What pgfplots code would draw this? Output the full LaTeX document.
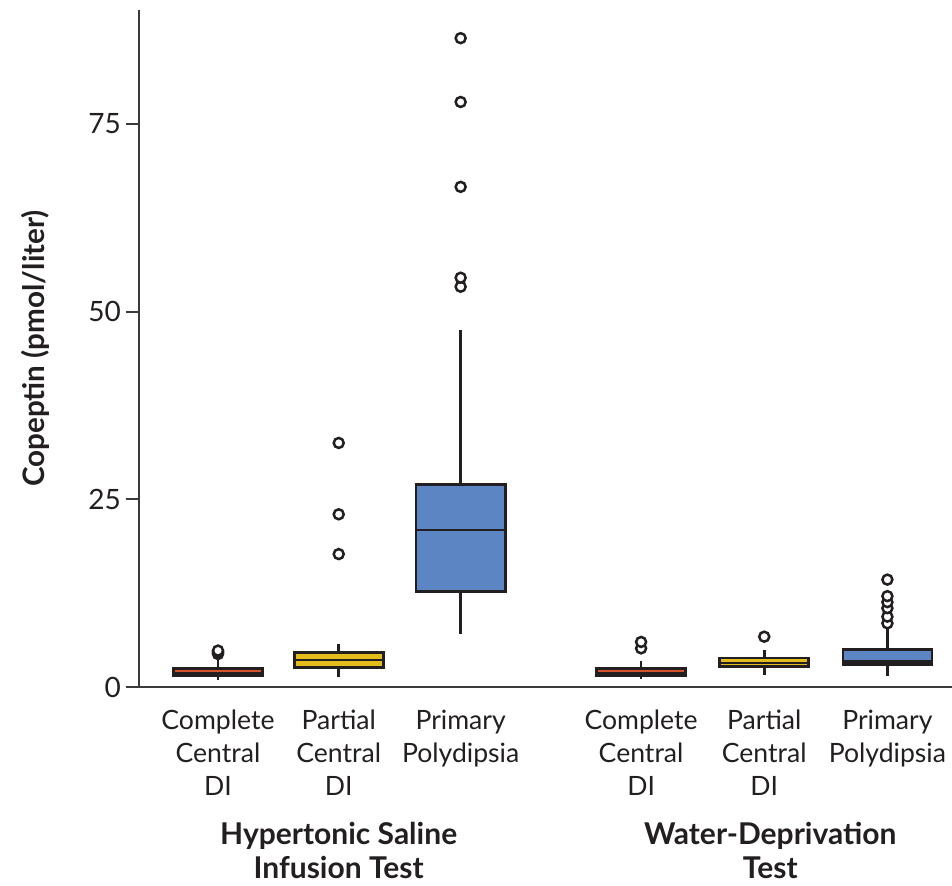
\documentclass[border=0pt]{standalone}
\usepackage{fontspec}
\setmainfont{Lato}
\usepackage{pgfplots}
\pgfplotsset{compat=1.18}
\usepgfplotslibrary{statistics}
\definecolor{cred}{HTML}{D4532B}
\definecolor{cyel}{HTML}{E3BC1C}
\definecolor{cblue}{HTML}{5B86C3}
\definecolor{bordc}{HTML}{231F20}
\definecolor{axgray}{HTML}{3A3A3A}
\pgfplotsset{
  outl/.style={mark=*, mark size=2.5pt, mark options={fill=white, draw=bordc, line width=1.25pt}},
}
\begin{document}
\begin{tikzpicture}
\useasboundingbox (-69.5pt,-99pt) rectangle (406.5pt,343.5pt);
\begin{axis}[
  at={(0,0)}, anchor=south west,
  scale only axis, width=406.5pt, height=338.5pt,
  xmin=-0.648, xmax=6.02, ymin=0, ymax=90.15,
  axis x line*=bottom, axis y line*=left,
  axis line style={line width=1pt, color=axgray},
  ytick={0,25,50,75},
  ytick style={line width=1pt, color=axgray},
  tick align=outside, major tick length=6.5pt,
  xtick={0,0.99,1.99,3.47,4.48,5.49},
  xticklabels={Complete\\Central\\DI, Partial\\Central\\DI, Primary\\Polydipsia, Complete\\Central\\DI, Partial\\Central\\DI, Primary\\Polydipsia},
  x tick style={draw=none},
  xticklabel style={align=center, font=\fontsize{13.3}{16.5}\selectfont, anchor=north, yshift=-1.5pt, text=bordc},
  yticklabel style={font=\fontsize{14}{16}\selectfont, text=bordc, xshift=1pt},
  /pgf/number format/assume math mode=true,
  ylabel={Copeptin (pmol/liter)},
  ylabel style={font=\fontsize{14.8}{17}\selectfont\bfseries, at={(axis description cs:0,0.5)}, anchor=center, yshift=52pt, text=bordc},
  boxplot/draw direction=y,
  boxplot/box extend=0.73,
  boxplot/whisker extend=0,
  clip=false,
]
% Hypertonic saline: complete central DI
\addplot[boxplot prepared={draw position=0, lower whisker=1.0, lower quartile=1.53, median=1.86, upper quartile=2.48, upper whisker=3.6},
  fill=cred, draw=bordc, line width=1.35pt, outl]
  table[row sep=\\, y index=0]{4.4\\4.55\\4.7\\4.85\\};
% partial
\addplot[boxplot prepared={draw position=0.99, lower whisker=1.37, lower quartile=2.57, median=3.6, upper quartile=4.57, upper whisker=5.7},
  fill=cyel, draw=bordc, line width=1.35pt, outl]
  table[row sep=\\, y index=0]{17.7\\23.0\\32.5\\};
% primary
\addplot[boxplot prepared={draw position=1.99, lower whisker=7.0, lower quartile=12.7, median=20.9, upper quartile=27.0, upper whisker=47.6},
  fill=cblue, draw=bordc, line width=1.35pt, outl]
  table[row sep=\\, y index=0]{53.3\\54.5\\66.6\\77.9\\86.4\\};
% Water deprivation: complete
\addplot[boxplot prepared={draw position=3.47, lower whisker=1.06, lower quartile=1.45, median=1.8, upper quartile=2.5, upper whisker=3.5},
  fill=cred, draw=bordc, line width=1.35pt, outl]
  table[row sep=\\, y index=0]{5.15\\6.0\\};
% partial
\addplot[boxplot prepared={draw position=4.48, lower whisker=1.6, lower quartile=2.76, median=3.2, upper quartile=3.86, upper whisker=4.93},
  fill=cyel, draw=bordc, line width=1.35pt, outl]
  table[row sep=\\, y index=0]{6.7\\};
% primary
\addplot[boxplot prepared={draw position=5.49, lower whisker=1.46, lower quartile=2.97, median=3.42, upper quartile=4.97, upper whisker=8.0},
  fill=cblue, draw=bordc, line width=1.35pt, outl]
  table[row sep=\\, y index=0]{8.48\\9.37\\10.5\\11.3\\12.1\\14.3\\};
\node[font=\fontsize{15}{17}\selectfont\bfseries, anchor=base, text=bordc, yshift=-78.5pt] at (axis cs:0.99,0) {Hypertonic Saline};
\node[font=\fontsize{15}{17}\selectfont\bfseries, anchor=base, text=bordc, yshift=-95.5pt] at (axis cs:0.99,0) {Infusion Test};
\node[font=\fontsize{15}{17}\selectfont\bfseries, anchor=base, text=bordc, yshift=-78.5pt] at (axis cs:4.53,0) {Water-Deprivation};
\node[font=\fontsize{15}{17}\selectfont\bfseries, anchor=base, text=bordc, yshift=-95.5pt] at (axis cs:4.53,0) {Test};
\end{axis}
\end{tikzpicture}
\end{document}
